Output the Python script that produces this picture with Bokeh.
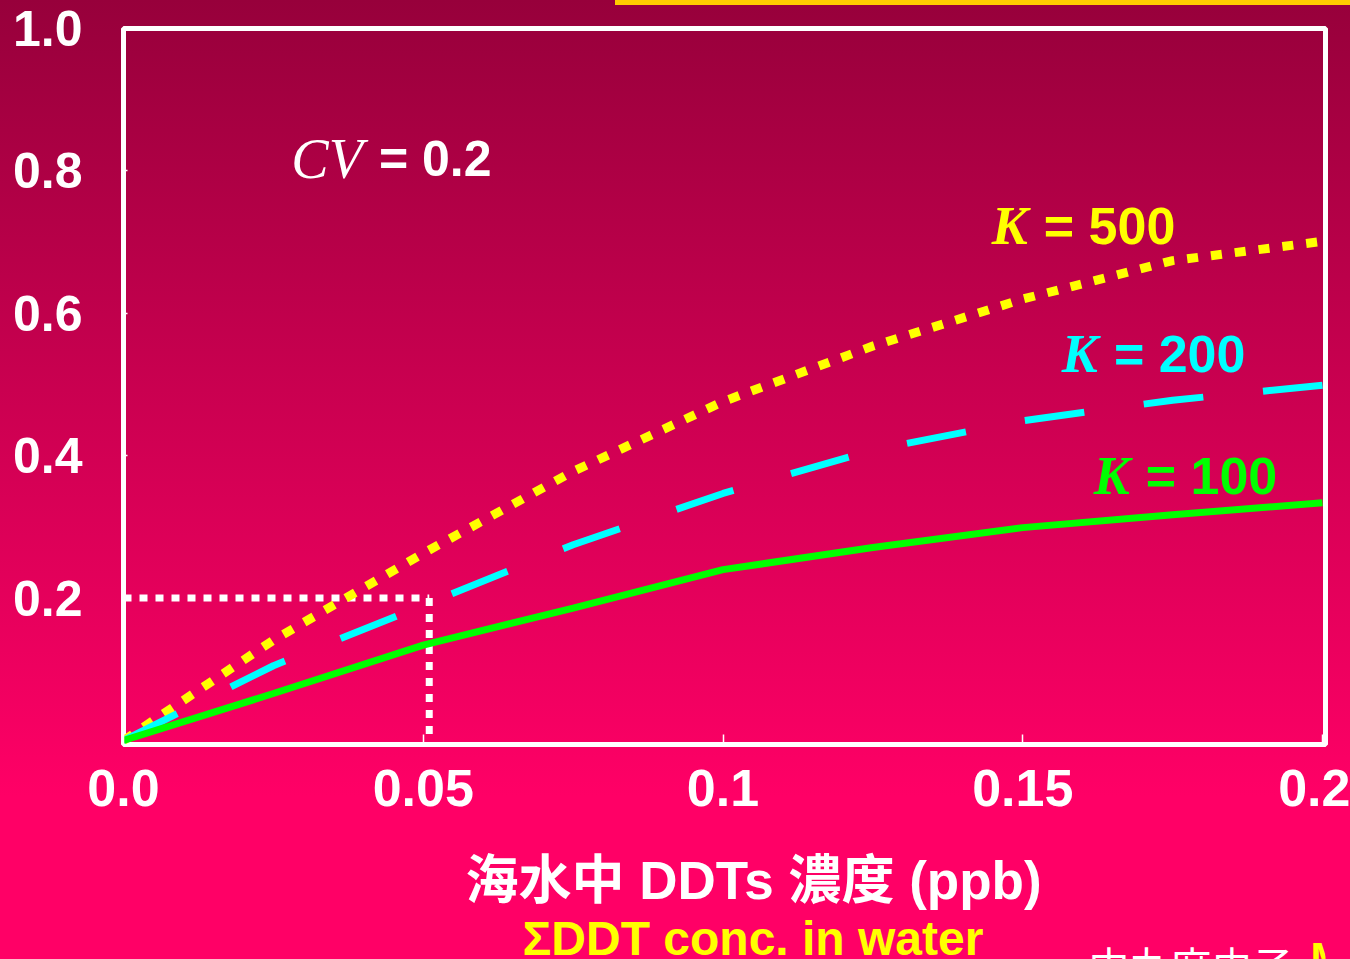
from bokeh.plotting import figure
from bokeh.layouts import column
from bokeh.models import Label, FixedTicker, NumeralTickFormatter, Range1d
from bokeh.core.properties import value
from bokeh.embed import file_html
from bokeh.resources import INLINE

# DDT concentration in sea water (ppb) and the modelled fractions per K
conc = [0.0, 0.025, 0.05, 0.075, 0.1, 0.125, 0.15, 0.175, 0.2]
k500 = [0.0, 0.141, 0.263, 0.378, 0.476, 0.554, 0.620, 0.674, 0.701]
k200 = [0.0, 0.105, 0.190, 0.275, 0.347, 0.408, 0.449, 0.478, 0.499]
k100 = [0.0, 0.066, 0.134, 0.186, 0.240, 0.271, 0.299, 0.317, 0.334]

# reference read-off: concentration giving 0.2
ref_conc = 0.051
ref_level = 0.2

x_ticks = [0.0, 0.05, 0.1, 0.15, 0.2]
x_tick_labels = ["0.0", "0.05", "0.1", "0.15", "0.2"]
y_ticks = [0.2, 0.4, 0.6, 0.8, 1.0]

SANS = "Liberation Sans"
SERIF = "Liberation Serif"
CJK_TC = "Liberation Sans, Noto Sans CJK TC"
CJK_JP = "Noto Sans CJK JP"

W = 1350
TOP_H = 830
BOTTOM_H = 959 - TOP_H
FRAME_L, FRAME_R = 123, 1325

p = figure(
    width=W, height=TOP_H,
    x_range=Range1d(0, 0.2005), y_range=Range1d(-0.0056, 1.0),
    output_backend="svg", toolbar_location=None,
    min_border_left=FRAME_L, min_border_right=W - FRAME_R,
    min_border_top=28, min_border_bottom=TOP_H - 744,
)
p.background_fill_color = None
p.border_fill_color = None
p.outline_line_color = "white"
p.outline_line_width = 5
p.grid.visible = False

# axes
xa = p.xaxis[0]
xa.ticker = FixedTicker(ticks=x_ticks)
xa.major_label_overrides = {t: s for t, s in zip(x_ticks, x_tick_labels)}
ya = p.yaxis[0]
ya.ticker = FixedTicker(ticks=y_ticks)
ya.formatter = NumeralTickFormatter(format="0.0")
for ax in (xa, ya):
    ax.axis_line_color = None
    ax.minor_tick_line_color = None
    ax.major_tick_line_color = "white"
    ax.major_tick_line_width = 1.5
    ax.major_tick_out = 0
    ax.major_label_text_color = "white"
    ax.major_label_text_font = SANS
    ax.major_label_text_font_style = "bold"
xa.major_label_text_font_size = "52px"
ya.major_label_text_font_size = "50px"
xa.major_tick_in = 10
xa.major_label_standoff = 25
ya.major_tick_in = 4
ya.major_label_standoff = 41

# read-off guides
p.line([0, ref_conc], [ref_level, ref_level], line_color="white",
       line_width=7, line_dash="8 8")
p.line([ref_conc, ref_conc], [ref_level, 0], line_color="white",
       line_width=7, line_dash="8 8")

# curves
p.line(conc, k500, line_color="#FFFF00", line_width=9, line_dash="11 13")
p.line(conc, k200, line_color="#00FFFF", line_width=7, line_dash="60 60")
p.line(conc, k100, line_color="#00FF00", line_width=7)


def param_label(x, y, sym, rest, color, sym_style, sym_size, rest_size):
    # italic symbol ends just left of the anchor, "= value" starts at it
    p.add_layout(Label(x=x, y=y, text=sym, text_align="right", x_offset=-16,
                       text_baseline="alphabetic", text_color=color,
                       text_font=SERIF, text_font_style=sym_style,
                       text_font_size=sym_size))
    p.add_layout(Label(x=x, y=y, text="= " + rest, text_align="left",
                       text_baseline="alphabetic", text_color=color,
                       text_font=SANS, text_font_style="bold",
                       text_font_size=rest_size))


param_label(0.0426, 0.817, "CV", "0.2", "white", "italic", "56px", "50px")
param_label(0.1535, 0.723, "K", "500", "#FFFF00", "bold italic", "54px", "52px")
param_label(0.1652, 0.543, "K", "200", "#00FFFF", "bold italic", "54px", "52px")
param_label(0.1705, 0.372, "K", "100", "#00FF00", "bold italic", "54px", "52px")

# caption strip below the chart; x in page pixels, y in pixels from its top
cap = figure(
    width=W, height=BOTTOM_H,
    x_range=Range1d(FRAME_L, FRAME_R), y_range=Range1d(BOTTOM_H, 0),
    output_backend="svg", toolbar_location=None,
    x_axis_location=None, y_axis_location=None,
    min_border_left=FRAME_L, min_border_right=W - FRAME_R,
    min_border_top=0, min_border_bottom=0,
)
cap.background_fill_color = None
cap.border_fill_color = None
cap.outline_line_color = None
cap.grid.visible = False

cap.text(x=[465], y=[50], text=["海水中 DDTs 濃度 (ppb)"],
         text_align="left", text_baseline="alphabetic",
         text_color="white", text_font=value(CJK_TC),
         text_font_style="bold", text_font_size="53px")
cap.text(x=[522], y=[108], text=["ΣDDT conc. in water"],
         text_align="left", text_baseline="alphabetic",
         text_color="#FFFF00", text_font=value(SANS),
         text_font_style="bold", text_font_size="48px")
cap.text(x=[1088], y=[103], text=["中丸麻由子"],
         text_align="left", text_baseline="top",
         text_color="white", text_font=value(CJK_JP),
         text_font_size="41px")
cap.text(x=[1310], y=[103], text=["M"],
         text_align="left", text_baseline="top",
         text_color="#FFFF00", text_font=value(SANS),
         text_font_style="bold", text_font_size="42px")

page = column(
    p, cap, spacing=0,
    styles={
        "background": (
            "linear-gradient(#FFCC00, #FFCC00) 615px 0px / 735px 5px no-repeat, "
            "linear-gradient(to bottom, #97003B 0%, #FF0066 83%, #FF0066 100%)"
        )
    },
)

open("out.html", "w").write(file_html(page, INLINE))
